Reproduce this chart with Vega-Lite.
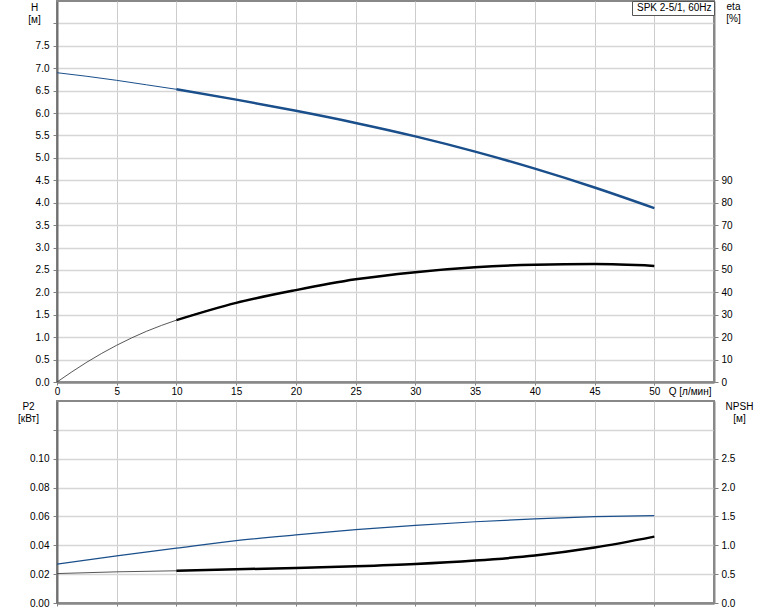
{
  "$schema": "https://vega.github.io/schema/vega-lite/v6.json",
  "autosize": {"type": "pad"},
  "padding": {"left": 16, "top": -1, "right": 5, "bottom": 5},
  "background": "white",
  "config": {
    "font": "Liberation Sans",
    "view": {"stroke": "#888", "strokeWidth": 2},
    "axis": {
      "labelFontSize": 10, "labelColor": "#000", "titleFontSize": 10, "titleColor": "#000",
      "titleFontWeight": "normal", "domainColor": "#808080", "domainWidth": 2,
      "tickColor": "#808080", "tickSize": 4, "labelFont": "Liberation Sans", "titleFont": "Liberation Sans",
      "labelOverlap": false
    },
    "line": {"interpolate": "monotone"}
  },
  "datasets": {
    "top": [
      {"Q": 0, "H": 6.90, "eta": 0},
      {"Q": 2.5, "H": 6.82, "eta": 8.85},
      {"Q": 5, "H": 6.73, "eta": 16.4},
      {"Q": 7.5, "H": 6.63, "eta": 22.65},
      {"Q": 10, "H": 6.53, "eta": 27.6},
      {"Q": 15, "H": 6.30, "eta": 35.3},
      {"Q": 20, "H": 6.05, "eta": 41},
      {"Q": 25, "H": 5.78, "eta": 45.8},
      {"Q": 30, "H": 5.48, "eta": 49},
      {"Q": 35, "H": 5.14, "eta": 51.2},
      {"Q": 40, "H": 4.76, "eta": 52.3},
      {"Q": 45, "H": 4.34, "eta": 52.6},
      {"Q": 50, "H": 3.88, "eta": 51.8}
    ],
    "bottom": [
      {"Q": 0, "P2": 0.027, "NPSH": 0.51},
      {"Q": 5, "P2": 0.0326, "NPSH": 0.54},
      {"Q": 10, "P2": 0.038, "NPSH": 0.558},
      {"Q": 15, "P2": 0.0432, "NPSH": 0.585},
      {"Q": 20, "P2": 0.0472, "NPSH": 0.605},
      {"Q": 25, "P2": 0.0508, "NPSH": 0.635},
      {"Q": 30, "P2": 0.0538, "NPSH": 0.675},
      {"Q": 35, "P2": 0.0563, "NPSH": 0.735},
      {"Q": 40, "P2": 0.0583, "NPSH": 0.822},
      {"Q": 45, "P2": 0.0598, "NPSH": 0.96},
      {"Q": 50, "P2": 0.0606, "NPSH": 1.15}
    ]
  },
  "bounds": "flush",
  "spacing": 19,
  "resolve": {"scale": {"color": "independent"}, "legend": {"color": "independent"}},
  "vconcat": [
    {
      "width": 657,
      "height": 381,
      "data": {"name": "top"},
      "encoding": {
        "x": {
          "field": "Q", "type": "quantitative",
          "scale": {"domain": [0, 55], "nice": false, "zero": false},
          "axis": {
            "values": [0, 5, 10, 15, 20, 25, 30, 35, 40, 45, 50],
            "grid": true, "gridColor": "#cccccc", "gridWidth": 1,
            "domainWidth": 2.5, "domainColor": "#888",
            "tickSize": 3, "labelPadding": 1, "labelFlush": false,
            "title": "Q [л/мин]", "titleAnchor": "start", "titleAlign": "right",
            "titleBaseline": "top", "titleX": 654, "titleY": 4
          }
        }
      },
      "layer": [
        {
          "encoding": {
            "y": {
              "field": "H", "type": "quantitative",
              "scale": {"domain": [0, 8.5], "nice": false, "zero": false},
              "axis": {
                "values": [0, 0.5, 1, 1.5, 2, 2.5, 3, 3.5, 4, 4.5, 5, 5.5, 6, 6.5, 7, 7.5, 8],
                "labelExpr": "datum.value > 7.9 ? '' : format(datum.value, '.1f')",
                "grid": true, "gridColor": "#d6d6d6", "gridWidth": 1.6,
                "domainColor": "#707070", "labelPadding": 4,
                "title": ["H", "[м]"], "titleAngle": 0, "titleAlign": "center",
                "titleBaseline": "top", "titleX": -23, "titleY": 1, "titleLineHeight": 12
              }
            }
          },
          "layer": [
            {
              "mark": {"type": "line", "strokeWidth": 1},
              "encoding": {
                "color": {
                  "datum": "SPK 2-5/1, 60Hz", "type": "nominal",
                  "scale": {"range": ["#1a4f8b"]},
                  "legend": {
                    "title": null, "orient": "top-right", "offset": 0, "padding": 2,
                    "strokeColor": "#555", "fillColor": "white",
                    "symbolSize": 0, "symbolStrokeWidth": 0, "symbolOpacity": 0,
                    "labelOffset": -7, "labelFontSize": 10, "labelColor": "#000", "labelLimit": 300
                  }
                }
              }
            },
            {
              "transform": [{"filter": "datum.Q >= 10"}],
              "mark": {"type": "line", "strokeWidth": 2.5, "color": "#1a4f8b"},
              "encoding": {}
            }
          ]
        },
        {
          "encoding": {
            "y": {
              "field": "eta", "type": "quantitative",
              "scale": {"domain": [0, 170], "nice": false, "zero": false},
              "axis": {
                "orient": "right",
                "values": [0, 10, 20, 30, 40, 50, 60, 70, 80, 90],
                "grid": false, "domainColor": "#888", "labelPadding": 3,
                "title": ["eta", "[%]"], "titleAngle": 0, "titleAlign": "center",
                "titleBaseline": "top", "titleX": 19, "titleY": 0.5, "titleLineHeight": 12
              }
            }
          },
          "layer": [
            {
              "mark": {"type": "line", "strokeWidth": 0.9, "color": "#444"},
              "encoding": {}
            },
            {
              "transform": [{"filter": "datum.Q >= 10"}],
              "mark": {"type": "line", "strokeWidth": 2.5, "color": "#000"},
              "encoding": {}
            }
          ]
        }
      ],
      "resolve": {"scale": {"y": "independent"}}
    },
    {
      "width": 657,
      "height": 202,
      "data": {"name": "bottom"},
      "encoding": {
        "x": {
          "field": "Q", "type": "quantitative",
          "scale": {"domain": [0, 55], "nice": false, "zero": false},
          "axis": {
            "values": [0, 5, 10, 15, 20, 25, 30, 35, 40, 45, 50],
            "grid": true, "gridColor": "#cccccc", "gridWidth": 1,
            "domainWidth": 2.5, "domainColor": "#888",
            "tickSize": 3, "labels": false, "title": null
          }
        }
      },
      "layer": [
        {
          "mark": {"type": "line", "strokeWidth": 1.2, "color": "#1a4f8b"},
          "encoding": {
            "y": {
              "field": "P2", "type": "quantitative",
              "scale": {"domain": [0, 0.14], "nice": false, "zero": false},
              "axis": {
                "values": [0, 0.02, 0.04, 0.06, 0.08, 0.1, 0.12],
                "labelExpr": "datum.value > 0.11 ? '' : format(datum.value, '.2f')",
                "grid": true, "gridColor": "#d6d6d6", "gridWidth": 1.6,
                "domainColor": "#707070", "labelPadding": 4,
                "title": ["P2", "[кВт]"], "titleAngle": 0, "titleAlign": "center",
                "titleBaseline": "top", "titleX": -29, "titleY": 0.5, "titleLineHeight": 12
              }
            }
          }
        },
        {
          "encoding": {
            "y": {
              "field": "NPSH", "type": "quantitative",
              "scale": {"domain": [0, 3.5], "nice": false, "zero": false},
              "axis": {
                "orient": "right",
                "values": [0, 0.5, 1, 1.5, 2, 2.5],
                "format": ".1f",
                "grid": false, "domainColor": "#888", "labelPadding": 3,
                "title": ["NPSH", "[м]"], "titleAngle": 0, "titleAlign": "center",
                "titleBaseline": "top", "titleX": 25, "titleY": 0.5, "titleLineHeight": 12
              }
            }
          },
          "layer": [
            {
              "mark": {"type": "line", "strokeWidth": 0.9, "color": "#444"},
              "encoding": {}
            },
            {
              "transform": [{"filter": "datum.Q >= 10"}],
              "mark": {"type": "line", "strokeWidth": 2.5, "color": "#000"},
              "encoding": {}
            }
          ]
        }
      ],
      "resolve": {"scale": {"y": "independent"}}
    }
  ]
}
